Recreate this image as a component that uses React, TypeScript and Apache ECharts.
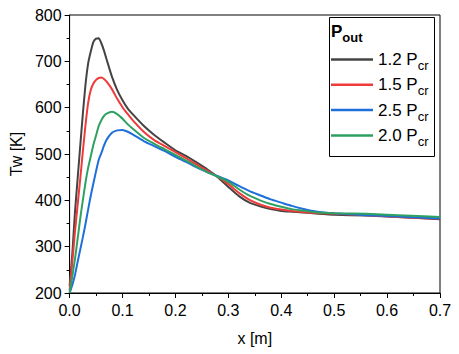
import React, { useEffect, useRef } from "react";
import * as echarts from "echarts";

const xs = [0, 0.005, 0.01, 0.015, 0.02, 0.025, 0.03, 0.035, 0.04, 0.045, 0.05, 0.055, 0.06, 0.065, 0.07, 0.08, 0.09, 0.1, 0.11, 0.12, 0.14, 0.16, 0.18, 0.2, 0.22, 0.24, 0.26, 0.28, 0.3, 0.32, 0.34, 0.36, 0.38, 0.4, 0.42, 0.44, 0.46, 0.48, 0.5, 0.56, 0.62, 0.7];

const t12 = [215, 282, 372, 444, 516, 586, 649, 695, 721, 742, 749, 750, 739, 723, 704, 667, 638, 616, 598, 585, 561, 541, 524, 508, 496, 482, 467, 450, 429, 409, 395, 387, 381, 377, 375.5, 374, 372, 370.5, 369, 367, 364, 359];
const t15 = [205, 265, 330, 388, 445, 505, 562, 610, 638, 652, 660, 664, 665, 662, 656, 640, 619, 601, 586, 572, 548, 530, 517, 504, 491, 477, 464, 451, 435, 416, 401, 391, 384, 380, 377, 375, 373, 372, 371, 368, 364, 360];
const t25 = [200, 217, 238, 266, 293, 320, 349, 380, 410, 437, 463, 487, 502, 518, 531, 546, 551, 552, 548, 542, 528, 517, 506, 494, 483, 471, 461, 452, 443, 431, 420, 411, 402, 395, 388, 382, 377, 374, 372, 368, 365, 361];
const t20 = [200, 235, 272, 315, 360, 400, 438, 470, 495, 520, 540, 560, 573, 582, 587, 591, 586, 576, 564, 554, 535, 522, 510, 498, 486, 473, 461, 451, 440, 424, 410, 400, 392, 386, 381, 378, 375, 373, 372, 371, 368, 364];

const seriesNames = ["1.2", "1.5", "2.5", "2.0"];
const seriesValues = [t12, t15, t25, t20];
const seriesColors = ["#444444", "#ef3a3a", "#1e6fd9", "#2ea162"];

const xTicks = { min: 0, max: 0.7, interval: 0.1 };
const yTicks = { min: 200, max: 800, interval: 100 };

const FONT = "Liberation Sans";

export default function App() {
  const ref = useRef<HTMLDivElement>(null);
  useEffect(() => {
    if (!ref.current) return;
    const chart = echarts.init(ref.current, null, { renderer: "svg" });
    const axisCommon = {
      axisLine: { show: true, onZero: false, lineStyle: { color: "#000", width: 1 } },
      axisTick: { show: true, inside: false, length: 5, lineStyle: { color: "#000", width: 1 } },
      minorTick: { show: true, splitNumber: 2, length: 3, lineStyle: { color: "#000", width: 1 } },
      splitLine: { show: false },
      minorSplitLine: { show: false },
    };
    chart.setOption({
      animation: false,
      backgroundColor: "#fff",
      textStyle: { fontFamily: FONT },
      grid: {
        left: 67,
        top: 15,
        width: 373,
        height: 278,
        show: true,
        borderColor: "#000",
        borderWidth: 1,
        backgroundColor: "transparent",
      },
      xAxis: {
        type: "value",
        ...xTicks,
        ...axisCommon,
        name: "x [m]",
        nameLocation: "middle",
        nameGap: 37,
        nameTextStyle: { fontFamily: FONT, fontSize: 16, color: "#000" },
        axisLabel: {
          fontFamily: FONT,
          fontSize: 16,
          color: "#000",
          margin: 9,
          formatter: (v: number) => v.toFixed(1),
        },
      },
      yAxis: {
        type: "value",
        ...yTicks,
        ...axisCommon,
        name: "Tw [K]",
        nameLocation: "middle",
        nameGap: 44,
        nameTextStyle: { fontFamily: FONT, fontSize: 16, color: "#000" },
        axisLabel: { fontFamily: FONT, fontSize: 16, color: "#000", margin: 8 },
      },
      legend: {
        orient: "vertical",
        left: 331,
        top: 51,
        icon: "rect",
        itemWidth: 42,
        itemHeight: 2.5,
        itemGap: 4.3,
        padding: 0,
        data: seriesNames,
        formatter: (name: string) => `{n|${name} P}{s|cr}`,
        textStyle: {
          fontFamily: FONT,
          color: "#000",
          rich: {
            n: { fontFamily: FONT, fontSize: 17, lineHeight: 25, color: "#000" },
            s: { fontFamily: FONT, fontSize: 13, lineHeight: 13, verticalAlign: "bottom", color: "#000" },
          },
        },
      },
      graphic: [
        {
          type: "rect",
          shape: { x: 329.5, y: 17.5, width: 105, height: 139 },
          style: { fill: "none", stroke: "#000", lineWidth: 1 },
          z: 10,
        },
        {
          type: "text",
          x: 331,
          y: 31,
          z: 10,
          style: {
            text: "{p|P}{o|out}",
            verticalAlign: "middle",
            rich: {
              p: { fontFamily: FONT, fontSize: 17, fontWeight: "bold", lineHeight: 25, fill: "#000" },
              o: { fontFamily: FONT, fontSize: 13, fontWeight: "bold", lineHeight: 13, verticalAlign: "bottom", fill: "#000" },
            },
          },
        },
      ],
      series: seriesNames.map((name, i) => ({
        name,
        type: "line",
        symbol: "none",
        smooth: 0.2,
        clip: true,
        color: seriesColors[i],
        lineStyle: { color: seriesColors[i], width: 2 },
        data: xs.map((x, j) => [x, seriesValues[i][j]]),
      })),
    });
    return () => chart.dispose();
  }, []);
  return (
    <div
      ref={ref}
      style={{ position: "fixed", left: 0, top: 0, width: 459, height: 354, background: "#fff" }}
    />
  );
}
